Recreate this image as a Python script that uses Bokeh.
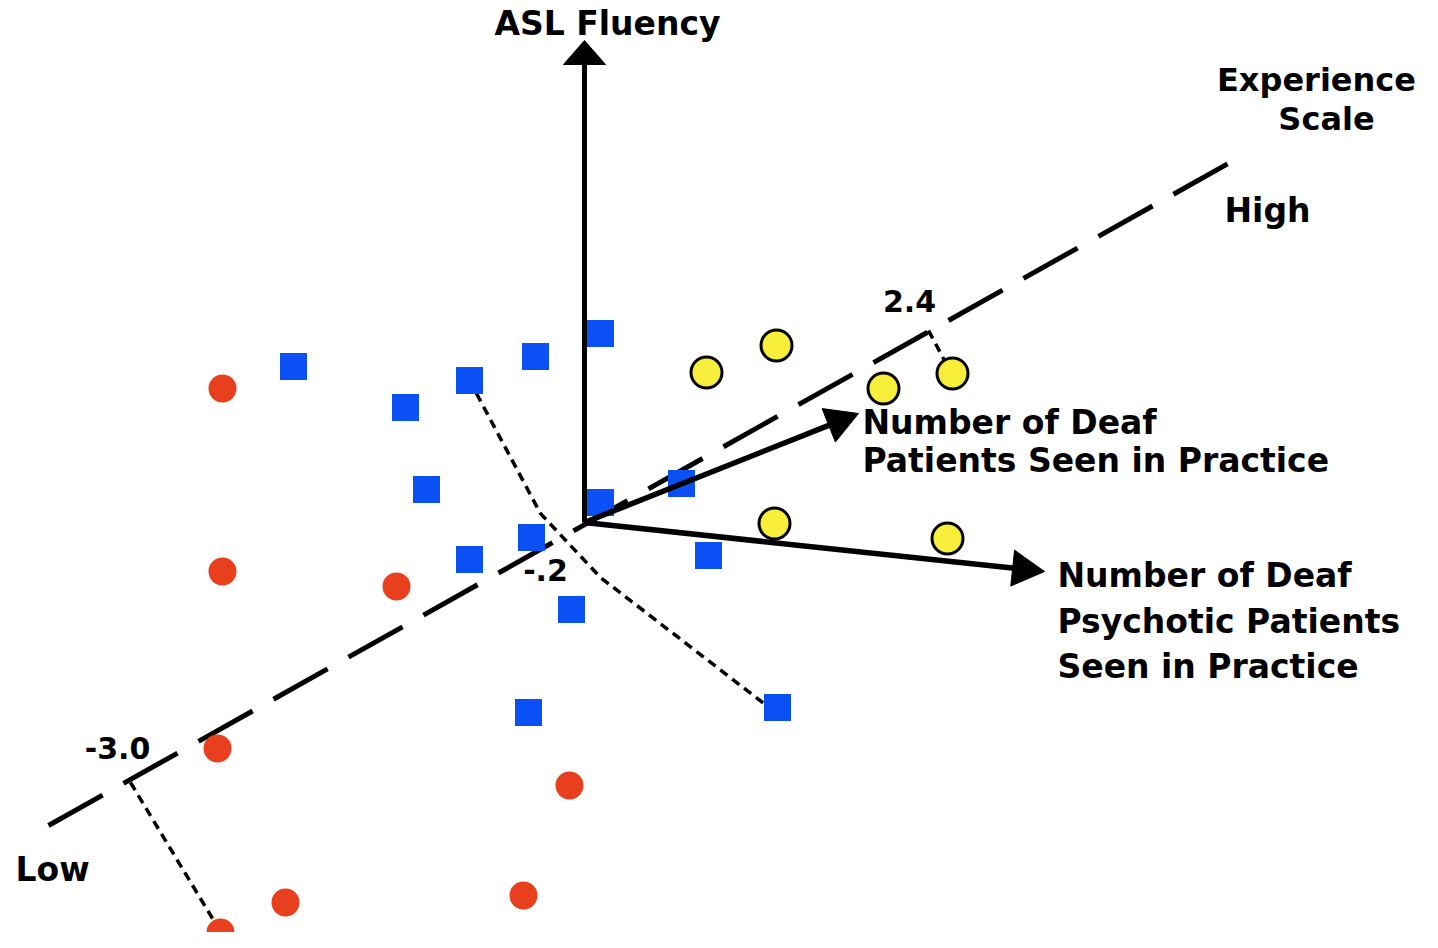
import numpy as np
from bokeh.plotting import figure
from bokeh.models import Range1d
from bokeh.core.properties import value
from bokeh.embed import file_html
from bokeh.resources import INLINE

# ---- data (diagram coordinates) ----
red_x = [222, 222, 396, 217, 569, 285, 523, 220]
red_y = [388, 571, 586, 748, 785, 902, 895, 932]

blue_x = [293, 405, 469, 535, 600, 426, 469, 531, 600, 681, 708, 571, 528, 777]
blue_y = [366, 407, 380, 356, 333, 489, 559, 537, 502, 483, 555, 609, 712, 707]

yellow_x = [706, 776, 883, 952, 774, 947]
yellow_y = [372, 345, 388, 373, 523, 538]

origin = (584, 522)
asl_tip = (584, 40)
patients_tip = (858, 413)
psychotic_tip = (1044, 571)
scale_start = (48, 825)
scale_end = (1242, 155)

proj_low_x = [130, 212]
proj_low_y = [782, 918]
proj_high_x = [928, 944]
proj_high_y = [330, 360]
proj_mid_x = [476, 540, 600, 766]
proj_mid_y = [393, 513, 577, 705]

scale_labels = ["-3.0", "-.2", "2.4"]
scale_label_x = [117, 545, 909]
scale_label_y = [759, 581, 312]

FONT = value("DejaVu Sans")
TEXT_SHIFT = 12  # baseline correction for rendered text

p = figure(width=1422, height=932, output_backend="svg", toolbar_location=None,
           x_range=Range1d(0, 1422), y_range=Range1d(932, 0),
           min_border=0, outline_line_color=None)
p.axis.visible = False
p.grid.visible = False
p.background_fill_color = "white"

# experience scale dashed line
p.line([scale_start[0], scale_end[0]], [scale_start[1], scale_end[1]],
       line_color="black", line_width=5, line_dash="62 24")

# dotted projection lines
for xs, ys in [(proj_low_x, proj_low_y), (proj_high_x, proj_high_y), (proj_mid_x, proj_mid_y)]:
    p.line(xs, ys, line_color="black", line_width=3.5, line_dash="9 6")

# blue squares & red circles
p.scatter(blue_x, blue_y, marker="square", size=27, fill_color="#0A50F5", line_color=None)
p.scatter(red_x, red_y, marker="circle", size=28, fill_color="#E8401E", line_color=None)


def arrow(start, tip, width, length, lw):
    sx, sy = start
    tx, ty = tip
    d = np.array([tx - sx, ty - sy], dtype=float)
    L = np.hypot(*d)
    u = d / L
    n = np.array([-u[1], u[0]])
    base = np.array([tx, ty]) - u * length
    p.line([sx, base[0] + u[0] * 2], [sy, base[1] + u[1] * 2], line_color="black", line_width=lw)
    pts = [np.array([tx, ty]), base + n * width / 2, base - n * width / 2]
    p.patch([q[0] for q in pts], [q[1] for q in pts], fill_color="black", line_color="black", line_width=1)


arrow(origin, asl_tip, 42, 24, 5)
arrow(origin, patients_tip, 36, 32, 5.5)
arrow(origin, psychotic_tip, 36, 32, 5.5)

# yellow circles
p.scatter(yellow_x, yellow_y, marker="circle", size=31, fill_color="#F7EE3C",
          line_color="black", line_width=3)

# texts
def label(x, y, t, align="left", size="33px"):
    p.text([x], [y - TEXT_SHIFT], text=[t], text_font=FONT, text_font_style="bold",
           text_font_size=size, text_align=align, text_baseline="alphabetic", text_color="black")

label(607, 35, "ASL Fluency", "center")
label(1316, 91, "Experience", "center", "32px")
label(1326, 130, "Scale", "center", "32px")
label(1224, 222, "High")
label(15, 881, "Low")
for t, x, y in zip(scale_labels, scale_label_x, scale_label_y):
    label(x, y, t, "center", "30px")
label(862, 434, "Number of Deaf")
label(862, 472, "Patients Seen in Practice")
label(1057, 587, "Number of Deaf")
label(1057, 633, "Psychotic Patients")
label(1057, 678, "Seen in Practice")

open("out.html", "w").write(file_html(p, INLINE))
